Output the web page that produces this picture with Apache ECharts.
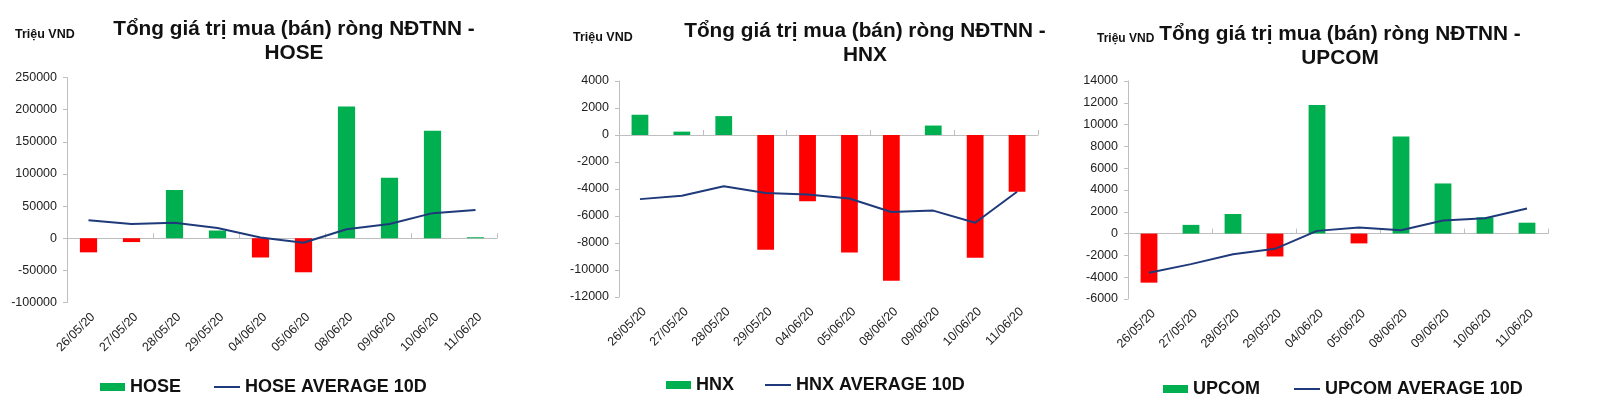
<!DOCTYPE html>
<html><head><meta charset="utf-8">
<script src="https://cdn.jsdelivr.net/npm/echarts@6/dist/echarts.min.js"></script>
<style>html,body{margin:0;padding:0;background:#fff}#c{width:1600px;height:408px}</style>
</head><body><div id="c"></div>
<script>
const categories = ['26/05/20','27/05/20','28/05/20','29/05/20','04/06/20','05/06/20','08/06/20','09/06/20','10/06/20','11/06/20'];
const hoseNet = [-22000,-6000,75000,12000,-30000,-53000,205000,94000,167000,1500];
const hoseAvg = [28000,22000,24000,16000,1000,-7000,14000,22000,39000,44000];
const hnxNet = [1500,250,1400,-8500,-4900,-8700,-10800,700,-9100,-4200];
const hnxAvg = [-4750,-4500,-3800,-4300,-4400,-4700,-5700,-5600,-6500,-4200];
const upcomNet = [-4500,800,1800,-2100,11800,-900,8900,4600,1500,1000];
const upcomAvg = [-3600,-2800,-1900,-1400,250,550,300,1200,1400,2300];
const panels = [
  {name:'HOSE', net:hoseNet, avg:hoseAvg, min:-100000, max:250000, interval:50000},
  {name:'HNX', net:hnxNet, avg:hnxAvg, min:-12000, max:4000, interval:2000},
  {name:'UPCOM', net:upcomNet, avg:upcomAvg, min:-6000, max:14000, interval:2000}
];
const titleText = 'Tổng giá trị mua (bán) ròng NĐTNN -';
const unitText = 'Triệu VND';
const avgSuffix = ' AVERAGE 10D';

const GREEN='#00B050', RED='#FF0000', NAVY='#1F3A7A';
const FONT='Liberation Sans, Arial, sans-serif';
const grids=[
  {left:67,right:1103,top:77.5,bottom:105.5},
  {left:619,right:562,top:81,bottom:111},
  {left:1128,right:52,top:81,bottom:109}
];
const titlePos=[{x:289,y:12},{x:860,y:14},{x:1335,y:17.5}];
const unitPos=[{x:10,y:23,s:12.5},{x:568,y:26,s:12.5},{x:1092,y:28,s:12}];
const legendPos=[{x:100,lx:214,y:378},{x:666,lx:765,y:376},{x:1163,lx:1294,y:380}];

const option={animation:false,textStyle:{fontFamily:FONT},
  title:[],grid:[],xAxis:[],yAxis:[],series:[],legend:[]};
panels.forEach((p,i)=>{
  option.title.push({text:titleText+'\n'+p.name,left:titlePos[i].x,top:titlePos[i].y,textAlign:'center',
    textStyle:{fontSize:20.8,fontWeight:'bold',color:'#111',fontFamily:FONT,lineHeight:24}});
  option.title.push({text:unitText,left:unitPos[i].x,top:unitPos[i].y,
    textStyle:{fontSize:unitPos[i].s,fontWeight:'bold',color:'#111',fontFamily:FONT}});
  option.grid.push(grids[i]);
  option.xAxis.push({type:'category',gridIndex:i,data:categories,
    axisLine:{show:false,onZero:false},axisTick:{show:false},
    axisLabel:{rotate:45,fontSize:12.5,color:'#222',margin:8,verticalAlign:'top',fontFamily:FONT}});
  option.xAxis.push({type:'category',gridIndex:i,data:categories,
    axisLine:{show:true,onZero:true,lineStyle:{color:'#BFBFBF',width:1}},
    axisTick:{show:true,length:5,lineStyle:{color:'#BFBFBF'}},axisLabel:{show:false}});
  option.yAxis.push({type:'value',gridIndex:i,min:p.min,max:p.max,interval:p.interval,
    axisLine:{show:true,lineStyle:{color:'#BFBFBF'}},axisTick:{show:true,length:4,lineStyle:{color:'#BFBFBF'}},
    splitLine:{show:false},axisLabel:{fontSize:12.5,color:'#222',margin:10,fontFamily:FONT,formatter:v=>String(v)}});
  option.series.push({name:p.name,type:'bar',xAxisIndex:2*i,yAxisIndex:i,barWidth:'40%',
    itemStyle:{color:GREEN},
    data:p.net.map(v=>({value:v,itemStyle:{color:v>=0?GREEN:RED}}))});
  option.series.push({name:p.name+avgSuffix,type:'line',xAxisIndex:2*i,yAxisIndex:i,
    data:p.avg,symbol:'none',lineStyle:{color:NAVY,width:2},itemStyle:{color:NAVY}});
  option.legend.push({left:legendPos[i].x,top:legendPos[i].y,padding:0,itemWidth:25,itemHeight:8,
    data:[{name:p.name,icon:'rect'}],
    textStyle:{fontSize:18,fontWeight:'bold',color:'#111',fontFamily:FONT}});
  option.legend.push({left:legendPos[i].lx,top:legendPos[i].y,padding:0,itemWidth:26,itemHeight:2,
    data:[{name:p.name+avgSuffix,icon:'rect',itemStyle:{color:NAVY}}],
    textStyle:{fontSize:18,fontWeight:'bold',color:'#111',fontFamily:FONT}});
});
const chart=echarts.init(document.getElementById('c'));
chart.setOption(option);
</script></body></html>
